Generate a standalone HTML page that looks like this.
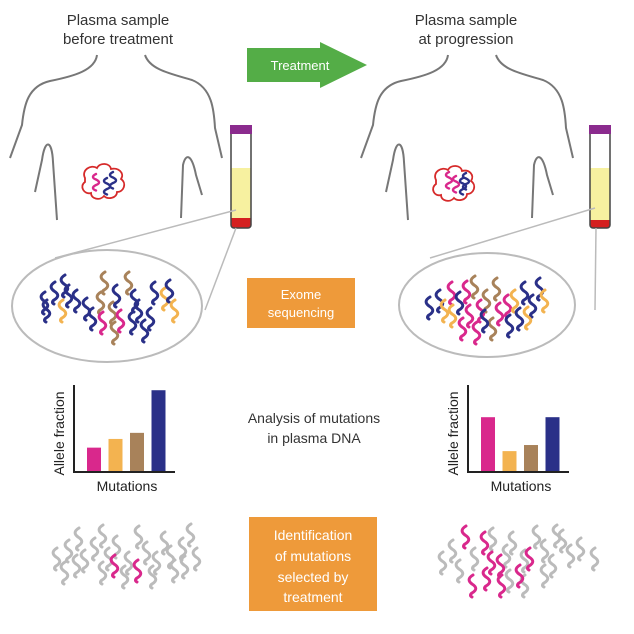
<!DOCTYPE html>
<html><head><meta charset="utf-8">
<style>
html,body{margin:0;padding:0;background:#fff;}
svg{display:block;font-family:"Liberation Sans",sans-serif;}
</style></head>
<body>
<svg id="fig" width="634" height="634" viewBox="0 0 634 634" xmlns="http://www.w3.org/2000/svg">
<defs>
<path id="sq" d="M5,0 c-5,3 -5,6 -1,9 c5,3 5,6 0,9 c-2,1.5 -2,3 0,4" fill="none" stroke-width="3" stroke-linecap="round"/>
<path id="sqs" d="M3,0 c-4,2 -4,4 0,5.5 c4,2 4,4 0,5.5 c-4,2 -4,4 0,5.5" fill="none" stroke-width="2.4" stroke-linecap="round"/>
</defs>

<g font-size="15" fill="#333" text-anchor="middle">
<text x="118" y="25">Plasma sample</text><text x="118" y="44">before treatment</text></g>
<g font-size="15" fill="#333" text-anchor="middle">
<text x="466" y="25">Plasma sample</text><text x="466" y="44">at progression</text></g>

<g fill="none" stroke="#777" stroke-width="2">
<path d="M97,55 C95,70 75,76 50,81 C28,86 24,105 22,125 L10,158"/>
<path d="M145,55 C150,70 172,74 192,80 C212,88 214,110 215,128 L222,158"/>
<path d="M35,192 L42,160 C45,138 52,140 53,162 L57,220"/>
<path d="M181,218 L183,165 C186,152 192,155 196,175 L202,195"/>
</g>
<g fill="none" stroke="#777" stroke-width="2">
<path d="M448,55 C446,70 426,76 401,81 C379,86 375,105 373,125 L361,158"/>
<path d="M496,55 C501,70 523,74 543,80 C563,88 565,110 566,128 L573,158"/>
<path d="M386,192 L393,160 C396,138 403,140 404,162 L408,220"/>
<path d="M532,218 L534,165 C537,152 543,155 547,175 L553,195"/>
</g>

<path d="M85,178 c-4,-8 6,-14 12,-10 c3,-6 13,-5 14,1 c7,-2 14,4 10,10 c6,4 3,13 -4,13 c0,6 -9,8 -13,4 c-4,5 -13,3 -13,-3 c-7,2 -12,-7 -6,-11 z" fill="none" stroke="#d62a2a" stroke-width="1.8"/>
<path d="M436,180 c-4,-8 6,-14 12,-10 c3,-6 13,-5 14,1 c7,-2 13,4 9,10 c6,4 3,13 -4,13 c0,6 -9,8 -13,4 c-4,5 -13,3 -13,-3 c-7,2 -11,-7 -5,-11 z" fill="none" stroke="#d62a2a" stroke-width="1.8"/>
<g id="tumorSq"></g>

<g>
<rect x="231" y="168" width="20" height="52" fill="#f7f1a0"/>
<path d="M231,218 h20 v6 a4,4 0 0 1 -4,4 h-12 a4,4 0 0 1 -4,-4z" fill="#d42020"/>
<rect x="231" y="131" width="20" height="97" rx="3" fill="none" stroke="#444" stroke-width="1.5"/>
<rect x="230" y="125" width="22" height="9" fill="#8b2b8e"/>
</g>
<g>
<rect x="590" y="168" width="20" height="52" fill="#f7f1a0"/>
<path d="M590,220 h20 v4 a4,4 0 0 1 -4,4 h-12 a4,4 0 0 1 -4,-4z" fill="#d42020"/>
<rect x="590" y="131" width="20" height="97" rx="3" fill="none" stroke="#444" stroke-width="1.5"/>
<rect x="589" y="125" width="22" height="9" fill="#8b2b8e"/>
</g>

<g stroke="#bbb" stroke-width="1.5" fill="none">
<line x1="236" y1="210" x2="55" y2="258"/><line x1="236" y1="228" x2="205" y2="310"/>
<line x1="595" y1="208" x2="430" y2="258"/><line x1="596" y1="228" x2="595" y2="310"/>
</g>
<ellipse cx="107" cy="306" rx="95" ry="56" fill="#fff" stroke="#bbb" stroke-width="2"/>
<ellipse cx="487" cy="305" rx="88" ry="52" fill="#fff" stroke="#bbb" stroke-width="2"/>
<g id="dnaSq"></g>

<g>
<path d="M247,48 h73 v-6 l47,23 l-47,23 v-6 h-73z" fill="#54ad47"/>
<text x="300" y="70" font-size="13" fill="#fff" text-anchor="middle">Treatment</text>
</g>
<g>
<rect x="247" y="278" width="108" height="50" fill="#ee9a3a"/>
<text x="301" y="299" font-size="13" fill="#fff" text-anchor="middle">Exome</text>
<text x="301" y="317" font-size="13" fill="#fff" text-anchor="middle">sequencing</text>
</g>
<g font-size="14" fill="#333" text-anchor="middle">
<text x="314" y="423">Analysis of mutations</text><text x="314" y="443">in plasma DNA</text></g>
<g>
<rect x="249" y="517" width="128" height="94" fill="#ee9a3a"/>
<g font-size="14" fill="#fff" text-anchor="middle">
<text x="313" y="540">Identification</text>
<text x="313" y="561">of mutations</text>
<text x="313" y="582">selected by</text>
<text x="313" y="602">treatment</text>
</g>
</g>

<g id="charts"></g>
<g id="selSq"></g>

<script>
// chart data
const mutations = ["m1","m2","m3","m4"];
const colors = ["#d9288c","#f3b350","#a8825a","#2a3088"];
const before = [0.28, 0.38, 0.45, 0.94];
const progression = [0.63, 0.24, 0.31, 0.63];

const NS="http://www.w3.org/2000/svg";
function mk(t,a,p){const e=document.createElementNS(NS,t);for(const k in a)e.setAttribute(k,a[k]);p.appendChild(e);return e;}

function chart(name,ox,vals){
  const g=mk('g',{},document.getElementById('charts'));
  
  
  const top=385,base=472,h=base-top;
  const y=v=>base-v*h;
  const x=i=>ox+13+i*21.5;
  vals.forEach((v,i)=>{
    const r=mk('rect',{x:x(i),y:y(v),width:14,height:base-y(v),fill:colors[i]},g);
    
    
  });
  const ax=mk('path',{d:`M${ox},${top} V${base} H${ox+101}`,fill:'none',stroke:'#222','stroke-width':2},g);
  
  
  const yl=mk('text',{x:0,y:0,'font-size':14,fill:'#222','text-anchor':'middle',transform:`translate(${ox-10},${(top+base)/2+5}) rotate(-90)`},g);
  yl.textContent='Allele fraction';
  
  
  const xl=mk('text',{x:ox+53,y:base+19,'font-size':14,fill:'#222','text-anchor':'middle'},g);
  xl.textContent='Mutations';
  
  
}
chart('chart-before',74,before);
chart('chart-progression',468,progression);

// squiggles
function sq(g,x,y,c,small){
  mk('use',{href:small?'#sqs':'#sq',stroke:c,transform:`translate(${x},${y})`},g);
}
const B="#2a3088",Y="#f3b350",Br="#a8825a",P="#d9288c",G="#bbb";
const tg=document.getElementById('tumorSq');
sq(tg,93,174,P,1);sq(tg,104,178,B,1);sq(tg,110,172,B,1);
sq(tg,446,172,P,1);sq(tg,453,176,P,1);sq(tg,460,178,B,1);sq(tg,463,173,B,1);
const dg=document.getElementById('dnaSq');
[[40,292,B],[50,282,B],[60,275,B],[64,285,B],[72,290,B],[58,300,Y],[82,298,B],[88,308,B],[96,292,Br],[100,272,Br],[108,302,Br],[112,285,B],[98,312,P],[116,310,P],[124,272,Br],[130,290,B],[134,300,B],[140,320,B],[150,282,B],[160,288,Y],[165,280,B],[170,300,Y],[110,322,Br],[146,308,B],[128,312,B],[42,300,B]].forEach(d=>sq(dg,d[0],d[1],d[2]));
[[425,297,B],[435,290,B],[440,300,Y],[447,282,P],[455,292,B],[462,281,P],[470,276,Br],[465,305,P],[476,300,P],[482,290,Br],[492,278,Br],[495,303,P],[503,295,P],[510,290,Y],[520,282,B],[528,295,B],[535,278,B],[540,290,Y],[523,307,Y],[515,308,B],[458,318,P],[472,322,P],[488,318,Br],[505,315,B],[480,310,B],[448,305,Y]].forEach(d=>sq(dg,d[0],d[1],d[2]));
const sg=document.getElementById('selSq');
[[52,548],[64,540],[74,528],[80,550],[90,538],[98,525],[104,548],[112,536],[124,552],[134,526],[142,542],[152,552],[160,532],[166,546],[178,538],[186,524],[192,548],[98,562],[120,566],[148,566],[72,555],[60,562],[170,560],[180,556]].forEach(d=>sq(sg,d[0],d[1],G));
sq(sg,110,555,P);sq(sg,133,560,P);
[[438,552],[448,540],[455,560],[470,548],[488,528],[502,545],[508,532],[520,550],[532,526],[540,540],[548,555],[558,530],[566,545],[576,538],[590,548],[520,575],[505,570],[552,525],[540,565]].forEach(d=>sq(sg,d[0],d[1],G));
[[461,526],[480,532],[468,575],[487,552],[496,555],[497,575],[515,565],[525,548],[482,568]].forEach(d=>sq(sg,d[0],d[1],P));
</script>
</svg>
</body></html>
